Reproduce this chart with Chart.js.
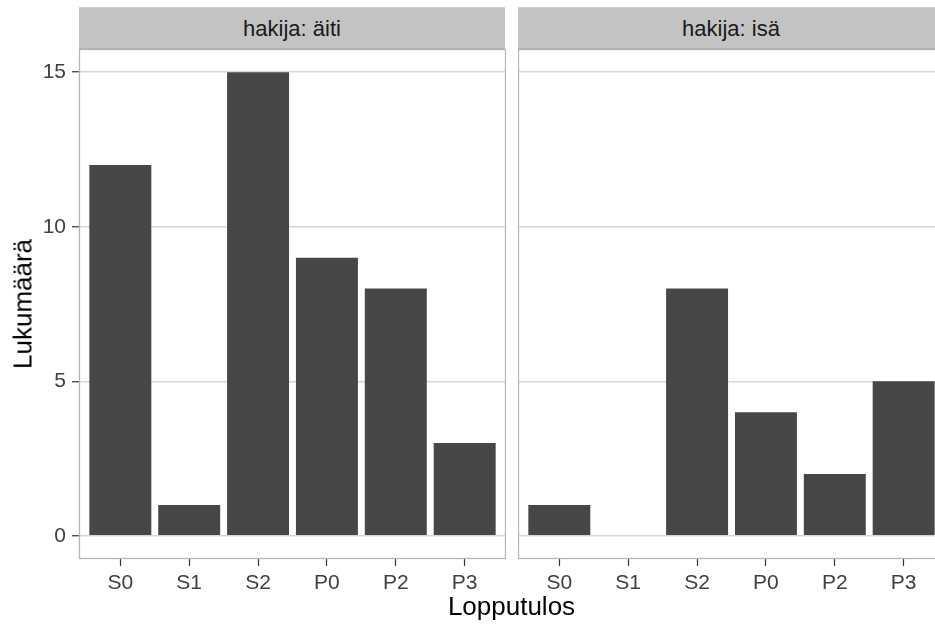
<!DOCTYPE html>
<html>
<head>
<meta charset="utf-8">
<script src="https://cdn.jsdelivr.net/npm/chart.js@4.4.1/dist/chart.umd.min.js"></script>
<style>
  html, body { margin: 0; padding: 0; width: 935px; height: 626px; overflow: hidden; background: #fff; }
  body { position: relative; font-family: "Liberation Sans", Arial, sans-serif; }
  .box { position: absolute; }
  .strip { position: absolute; top: 7px; height: 42px; background: #c3c3c3; color: #1a1a1a;
           font-size: 22px; line-height: 42px; text-align: center; box-sizing: border-box;
           border-top: 1px solid #d0d0d0; border-bottom: 1px solid #b3b3b3; }
  .xtitle { position: absolute; left: 0; width: 1023px; top: 591px; text-align: center; font-size: 26px; color: #000; }
  .ytitle { position: absolute; left: 23px; top: 304px; font-size: 26px; color: #000;
            transform: translate(-50%, -50%) rotate(-90deg); white-space: nowrap; }
</style>
</head>
<body>
<div class="strip" style="left:79px; width:426px;">hakija: äiti</div>
<div class="strip" style="left:518px; width:426px;">hakija: isä</div>
<div class="box" style="left:0; top:49px; width:506px; height:577px;"><canvas id="c1"></canvas></div>
<div class="box" style="left:518px; top:49px; width:427px; height:577px;"><canvas id="c2"></canvas></div>
<div class="xtitle">Lopputulos</div>
<div class="ytitle">Lukumäärä</div>
<script>
// data
const categories = ['S0', 'S1', 'S2', 'P0', 'P2', 'P3'];
const aitiValues = [12, 1, 15, 9, 8, 3];
const isaValues = [1, 0, 8, 4, 2, 5];
const yTicks = [0, 5, 10, 15];

const barColor = '#474747';
const gridColor = '#d6d6d6';
const borderColor = '#b5b5b5';
const tickFont = { family: '"Liberation Sans", Arial, sans-serif', size: 21 };

// panel border like ggplot
const panelBorder = {
  id: 'panelBorder',
  afterDraw(chart) {
    const a = chart.chartArea, ctx = chart.ctx;
    ctx.save();
    ctx.strokeStyle = borderColor;
    ctx.lineWidth = 1.3;
    ctx.strokeRect(a.left + 0.5, a.top + 0.5, a.right - a.left - 1, a.bottom - a.top - 1);
    ctx.restore();
  }
};

function noPad(s) {
  s.paddingTop = 0; s.paddingBottom = 0; s.paddingLeft = 0; s.paddingRight = 0;
}

function makePanel(id, values, showY) {
  return new Chart(document.getElementById(id), {
    type: 'bar',
    data: {
      datasets: [{
        data: values.map((v, i) => ({ x: i, y: v })),
        backgroundColor: barColor,
        borderWidth: 0,
        categoryPercentage: 0.9,
        barPercentage: 1
      }]
    },
    options: {
      responsive: true,
      maintainAspectRatio: false,
      animation: false,
      plugins: { legend: { display: false }, tooltip: { enabled: false } },
      layout: { padding: 0 },
      scales: {
        x: {
          type: 'linear',
          offset: false,
          min: -0.6,
          max: categories.length - 0.4,
          afterBuildTicks: s => { s.ticks = categories.map((c, i) => ({ value: i })); },
          afterFit: s => { s.height = 67; noPad(s); },
          border: { display: false },
          grid: { offset: false, drawOnChartArea: false, drawTicks: true, tickLength: 7, tickColor: '#333', tickWidth: 1.2 },
          ticks: {
            callback: v => categories[v],
            autoSkip: false, maxRotation: 0, padding: 5,
            color: '#404040', font: tickFont
          }
        },
        y: {
          min: -0.75,
          max: 15.75,
          afterBuildTicks: s => { s.ticks = yTicks.map(v => ({ value: v })); },
          afterFit: s => { s.width = showY ? 79 : 0; noPad(s); },
          border: { display: false },
          grid: { color: gridColor, lineWidth: 1.5, drawTicks: showY, tickLength: 7, tickColor: '#333', tickWidth: 1.2 },
          ticks: {
            display: showY, padding: 6,
            color: '#404040', font: tickFont
          }
        }
      }
    },
    plugins: [panelBorder]
  });
}

makePanel('c1', aitiValues, true);
makePanel('c2', isaValues, false);
</script>
</body>
</html>
